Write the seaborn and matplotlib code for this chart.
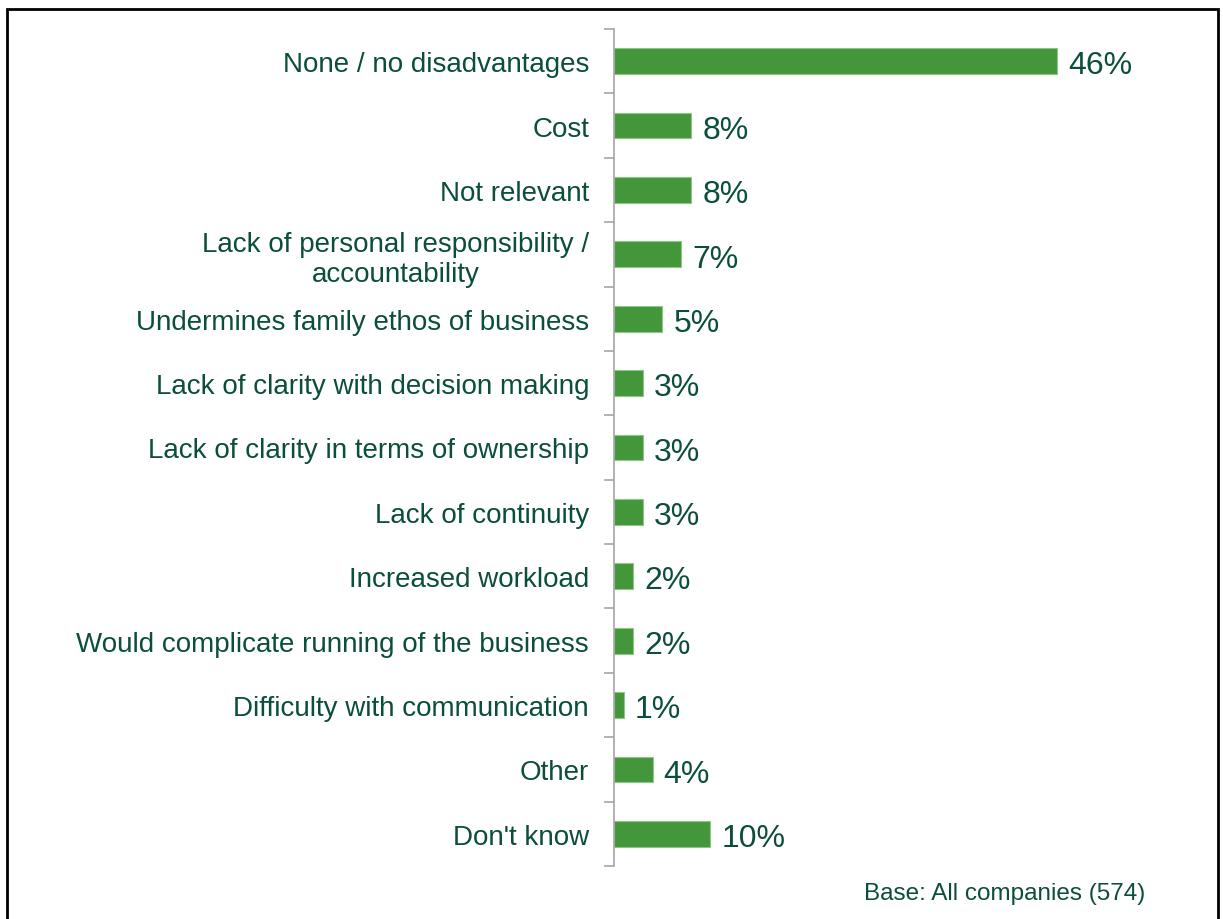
import matplotlib
matplotlib.use("Agg")
import matplotlib.pyplot as plt
import seaborn as sns
import pandas as pd
from matplotlib.patches import Rectangle

categories = [
    "None / no disadvantages",
    "Cost",
    "Not relevant",
    "Lack of personal responsibility /\naccountability",
    "Undermines family ethos of business",
    "Lack of clarity with decision making",
    "Lack of clarity in terms of ownership",
    "Lack of continuity",
    "Increased workload",
    "Would complicate running of the business",
    "Difficulty with communication",
    "Other",
    "Don't know",
]
values = [46, 8, 8, 7, 5, 3, 3, 3, 2, 2, 1, 4, 10]
base_note = "Base: All companies (574)"

bar_color = "#43963A"
text_color = "#0C4E3D"

sns.set_theme(style="white")
plt.rcParams["font.family"] = ["Liberation Sans", "DejaVu Sans"]

df = pd.DataFrame({"category": categories, "value": values})

W, H = 1223, 920
fig = plt.figure(figsize=(W / 100, H / 100), dpi=100)
ax = fig.add_axes([614 / W, 1 - 867 / H, (1180 - 614) / W, (867 - 30) / H])

sns.barplot(data=df, x="value", y="category", orient="h", color=bar_color,
            width=0.4, saturation=1, edgecolor="#8CC585", linewidth=0.8, ax=ax)

ax.set_xlim(0, (1180 - 614) / ((1057 - 614) / 46))
ax.set_ylim(len(categories) - 0.5, -0.5)
ax.set_xlabel("")
ax.set_ylabel("")
ax.set_xticks([])

for s in ["top", "right", "bottom"]:
    ax.spines[s].set_visible(False)
ax.spines["left"].set_color("#A6A6A6")
ax.spines["left"].set_linewidth(1.2)

ax.set_yticks(range(len(categories)))
ax.set_yticklabels(categories, ha="right", multialignment="center",
                   linespacing=1.2)
ax.tick_params(axis="y", which="major", left=True, length=0, pad=18,
               labelsize=20, labelcolor=text_color)
ax.set_yticks([i - 0.5 for i in range(len(categories) + 1)], minor=True)
ax.tick_params(axis="y", which="minor", left=True, length=7, width=1.2,
               color="#A6A6A6")

for c in ax.containers:
    texts = ax.bar_label(c, labels=[f"{v}%" for v in values], padding=8,
                         fontsize=23, color=text_color)
    for t in texts:
        t.xyann = (8, -3)

fig.text(1145 / W, 1 - 894 / H, base_note, ha="right", va="center",
         fontsize=17.5, color=text_color)

fig.patches.append(Rectangle((7 / W, -0.05), (1218 - 7) / W, 1.05 - 10 / H,
                             transform=fig.transFigure, fill=False,
                             edgecolor="black", linewidth=2))

fig.savefig("out.png", dpi=100)
